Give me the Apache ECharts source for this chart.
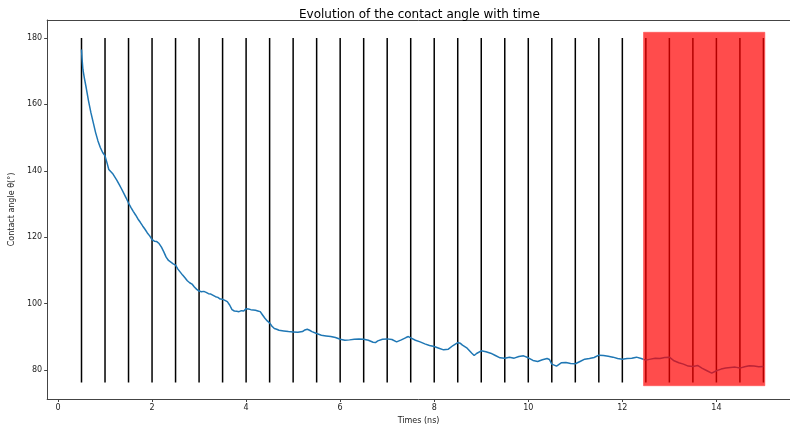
<!DOCTYPE html>
<html>
<head>
<meta charset="utf-8">
<script src="https://cdn.jsdelivr.net/npm/echarts@6/dist/echarts.min.js"></script>
<style>html,body{margin:0;padding:0;background:#fff;}#c{width:790px;height:430px;}</style>
</head>
<body>
<div id="c"></div>
<script>
const times = [0.5,0.51,0.53,0.56,0.6,0.65,0.7,0.75,0.8,0.85,0.9,0.95,1.0,1.05,1.08,1.12,1.16,1.2,1.25,1.3,1.35,1.4,1.45,1.5,1.55,1.6,1.65,1.7,1.75,1.8,1.85,1.9,1.95,2.0,2.05,2.1,2.15,2.2,2.25,2.3,2.35,2.4,2.45,2.5,2.55,2.6,2.65,2.7,2.75,2.8,2.85,2.9,2.95,3.0,3.05,3.1,3.15,3.2,3.25,3.3,3.35,3.4,3.45,3.5,3.55,3.6,3.65,3.7,3.75,3.8,3.85,3.9,3.95,4.0,4.05,4.1,4.15,4.2,4.25,4.3,4.35,4.4,4.45,4.5,4.55,4.6,4.65,4.7,4.8,4.9,5.0,5.1,5.2,5.25,5.3,5.35,5.4,5.5,5.6,5.7,5.8,5.9,6.0,6.1,6.2,6.3,6.4,6.5,6.6,6.7,6.75,6.8,6.9,7.0,7.1,7.2,7.3,7.4,7.45,7.5,7.6,7.7,7.8,7.9,8.0,8.1,8.2,8.3,8.4,8.5,8.55,8.6,8.7,8.8,8.85,8.9,9.0,9.1,9.2,9.3,9.4,9.5,9.6,9.7,9.8,9.9,10.0,10.1,10.2,10.3,10.4,10.45,10.5,10.6,10.7,10.8,10.9,11.0,11.1,11.2,11.3,11.4,11.5,11.6,11.7,11.8,11.9,12.0,12.1,12.2,12.3,12.4,12.5,12.6,12.7,12.8,12.9,13.0,13.1,13.2,13.3,13.4,13.5,13.6,13.7,13.8,13.9,14.0,14.1,14.2,14.3,14.4,14.5,14.6,14.7,14.8,14.9,15.0];
const angles = [176.5,174,170.5,168,165,161,157.5,154.5,151.5,149,147,145.5,144.5,142.0,140.4,140.4,139.2,138.6,137.2,135.9,134.6,133.2,131.8,130.3,129.0,127.8,126.7,125.5,124.5,123.4,122.4,121.3,120.4,119.3,118.8,118.7,118.1,117.0,115.6,114.0,113.0,112.5,112.0,111.6,110.4,109.5,108.6,107.8,106.9,106.3,105.9,105.0,104.3,103.8,103.6,103.7,103.4,103.0,102.9,102.5,102.1,101.9,101.4,101.3,101.0,100.6,99.6,98.2,97.8,97.7,97.6,97.9,97.8,98.5,98.4,98.2,98.1,98.0,97.8,97.6,96.6,95.6,94.8,94.2,93.2,92.5,92.3,92.0,91.8,91.6,91.5,91.4,91.6,92.1,92.3,92.0,91.6,91.0,90.5,90.3,90.1,89.8,89.3,89.0,89.1,89.3,89.4,89.3,89.0,88.4,88.3,88.8,89.3,89.4,89.2,88.5,89.1,89.8,90.1,89.7,89.0,88.5,87.9,87.4,87.1,86.6,86.1,86.3,87.4,88.3,88.1,87.5,86.6,85.1,84.4,85.0,85.8,85.5,85.1,84.4,83.7,83.6,83.9,83.6,84.1,84.3,83.7,82.9,82.6,83.1,83.5,83.2,81.8,81.2,82.2,82.3,82.0,81.9,82.6,83.3,83.5,83.8,84.5,84.4,84.2,83.9,83.5,83.3,83.5,83.6,83.9,83.5,83.0,83.3,83.6,83.5,83.8,83.9,82.8,82.2,81.8,81.2,81.1,81.4,80.5,79.8,79.1,79.8,80.3,80.6,80.8,80.9,80.6,81.0,81.3,81.2,81.0,81.1];
const vlineX = [0.5,1,1.5,2,2.5,3,3.5,4,4.5,5,5.5,6,6.5,7,7.5,8,8.5,9,9.5,10,10.5,11,11.5,12,12.5,13,13.5,14,14.5,15];
const vlineRange = [76.3, 180];
const spanX = [12.45, 15.03];
const spanY = [75.3, 181.7];
const xTicks = [0,2,4,6,8,10,12,14];
const yTicks = [80,100,120,140,160,180];

const FONT = 'DejaVu Sans';
const X_MIN = -0.23, X_MAX = 15.565;
const chart = echarts.init(document.getElementById('c'), null, {renderer:'canvas'});
const option = {
  animation: false,
  backgroundColor: '#fff',
  title: {
    text: 'Evolution of the contact angle with time',
    left: 294, top: 4,
    textStyle: {fontFamily: FONT, fontSize: 12, fontWeight: 'normal', color: '#000'}
  },
  grid: {left: 47, top: 20, width: 743, height: 379, show: false},
  xAxis: [{
    type: 'value', min: X_MIN, max: X_MAX,
    name: 'Times (ns)', nameLocation: 'middle', nameGap: 16,
    nameTextStyle: {fontFamily: FONT, fontSize: 8, color: '#222'},
    axisLine: {show: true, onZero: false, lineStyle: {color: '#444', width: 1}},
    axisTick: {show: true, length: 3, inside: false, customValues: xTicks, lineStyle: {color: '#444'}},
    axisLabel: {fontFamily: FONT, fontSize: 8, color: '#222', margin: 5, customValues: xTicks},
    splitLine: {show: false}
  }, {
    type: 'value', position: 'top', min: X_MIN, max: X_MAX,
    axisLine: {show: true, onZero: false, lineStyle: {color: '#444', width: 1}},
    axisTick: {show: false}, axisLabel: {show: false}, splitLine: {show: false}
  }],
  yAxis: {
    type: 'value', min: 71.3, max: 185.4,
    name: 'Contact angle θ(°)', nameLocation: 'middle', nameGap: 28,
    nameTextStyle: {fontFamily: FONT, fontSize: 8, color: '#222'},
    axisLine: {show: true, onZero: false, lineStyle: {color: '#444', width: 1}},
    axisTick: {show: true, length: 3, inside: false, customValues: yTicks, lineStyle: {color: '#444'}},
    axisLabel: {fontFamily: FONT, fontSize: 8, color: '#222', margin: 5, customValues: yTicks},
    splitLine: {show: false}
  },
  series: [
    {
      type: 'custom', z: 3, silent: true,
      data: vlineX.map(x => [x, vlineRange[0], vlineRange[1]]),
      encode: {x: 0, y: [1, 2]},
      renderItem: function (params, api) {
        const p1 = api.coord([api.value(0), api.value(1)]);
        const p2 = api.coord([api.value(0), api.value(2)]);
        return {type: 'line', shape: {x1: p1[0], y1: p1[1], x2: p2[0], y2: p2[1]}, style: {stroke: '#000', lineWidth: 1.5}};
      }
    },
    {
      type: 'line', z: 4, silent: true, symbol: 'none',
      data: times.map((t, i) => [t, angles[i]]),
      lineStyle: {color: '#1f77b4', width: 1.5}
    },
    {
      type: 'custom', z: 10, silent: true,
      data: [[spanX[0], spanY[0], spanX[1], spanY[1]]],
      encode: {x: [0, 2], y: [1, 3]},
      renderItem: function (params, api) {
        const a = api.coord([api.value(0), api.value(3)]);
        const b = api.coord([api.value(2), api.value(1)]);
        return {type: 'rect', shape: {x: a[0], y: a[1], width: b[0] - a[0], height: b[1] - a[1]},
          style: {fill: 'rgba(255,0,0,0.7)', stroke: 'rgba(255,80,80,0.6)', lineWidth: 1}};
      }
    }
  ]
};
chart.setOption(option);
</script>
</body>
</html>
